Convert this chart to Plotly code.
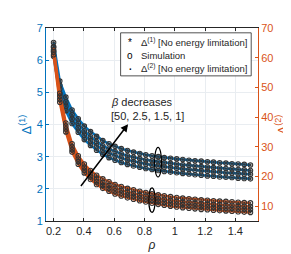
import plotly.graph_objects as go

rho = [0.2, 0.241, 0.281, 0.322, 0.363, 0.403, 0.444, 0.484, 0.525, 0.566, 0.606,
       0.647, 0.688, 0.728, 0.769, 0.809, 0.85, 0.891, 0.931, 0.972, 1.013, 1.053,
       1.094, 1.134, 1.175, 1.216, 1.256, 1.297, 1.338, 1.378, 1.419, 1.459, 1.5]

# Delta(1) (left axis), one list per beta
d1_b1 = [6.55, 5.35, 4.85, 4.45, 4.18, 3.95, 3.78, 3.63, 3.50, 3.40, 3.32, 3.25, 3.19, 3.14, 3.10, 3.06, 3.03,
         3.00, 2.97, 2.95, 2.93, 2.91, 2.89, 2.87, 2.86, 2.84, 2.83, 2.81, 2.80, 2.78, 2.77, 2.76, 2.74]
d1_b15 = [6.42, 5.22, 4.70, 4.30, 4.03, 3.80, 3.62, 3.47, 3.34, 3.24, 3.16, 3.09, 3.03, 2.98, 2.94, 2.90, 2.87,
          2.84, 2.81, 2.79, 2.77, 2.75, 2.73, 2.71, 2.69, 2.68, 2.66, 2.65, 2.63, 2.62, 2.60, 2.59, 2.57]
d1_b25 = [6.28, 5.10, 4.57, 4.17, 3.90, 3.67, 3.49, 3.34, 3.21, 3.11, 3.03, 2.96, 2.90, 2.85, 2.81, 2.77, 2.74,
          2.71, 2.68, 2.66, 2.64, 2.62, 2.60, 2.58, 2.56, 2.55, 2.53, 2.52, 2.50, 2.49, 2.47, 2.46, 2.45]
d1_b50 = [6.12, 4.95, 4.43, 4.03, 3.76, 3.53, 3.35, 3.20, 3.07, 2.97, 2.89, 2.82, 2.76, 2.71, 2.67, 2.63, 2.60,
          2.57, 2.54, 2.52, 2.50, 2.48, 2.46, 2.44, 2.42, 2.40, 2.39, 2.37, 2.36, 2.35, 2.33, 2.32, 2.31]

# Delta(2) (right axis)
d2_b1 = [63.5, 48.0, 38.0, 31.0, 27.0, 24.2, 22.0, 20.4, 19.2, 18.2, 17.3, 16.6, 16.0, 15.5, 15.0, 14.6, 14.2,
         13.8, 13.5, 13.2, 12.9, 12.7, 12.5, 12.3, 12.1, 12.0, 11.8, 11.7, 11.6, 11.5, 11.3, 11.2, 11.1]
d2_b15 = [62.7, 47.0, 37.0, 30.0, 25.9, 23.1, 20.9, 19.2, 18.0, 17.0, 16.1, 15.4, 14.8, 14.3, 13.8, 13.4, 13.0,
          12.6, 12.3, 12.0, 11.7, 11.5, 11.3, 11.1, 10.9, 10.8, 10.6, 10.5, 10.4, 10.3, 10.1, 10.0, 9.9]
d2_b25 = [61.9, 46.0, 36.0, 29.0, 25.0, 22.1, 19.9, 18.2, 17.0, 16.0, 15.1, 14.4, 13.8, 13.3, 12.8, 12.4, 12.0,
          11.6, 11.3, 11.0, 10.7, 10.5, 10.3, 10.1, 9.9, 9.8, 9.6, 9.5, 9.4, 9.3, 9.1, 9.0, 8.9]
d2_b50 = [61.0, 45.0, 35.0, 28.2, 24.1, 21.2, 19.0, 17.3, 16.0, 15.0, 14.1, 13.4, 12.8, 12.3, 11.8, 11.4, 11.0,
          10.6, 10.3, 10.0, 9.7, 9.5, 9.3, 9.1, 8.9, 8.8, 8.6, 8.5, 8.4, 8.3, 8.1, 8.0, 7.9]

x_ticks = [0.2, 0.4, 0.6, 0.8, 1, 1.2, 1.4]
y1_ticks = [1, 2, 3, 4, 5, 6, 7]
y2_ticks = [10, 20, 30, 40, 50, 60, 70]

BLUE = "#0072BD"
ORANGE = "#D95319"
FONT = "Liberation Sans, Arial, sans-serif"

fig = go.Figure()

d1_sets = [d1_b50, d1_b25, d1_b15, d1_b1]
d2_sets = [d2_b50, d2_b25, d2_b15, d2_b1]

for ys in d1_sets:
    fig.add_trace(go.Scatter(x=rho, y=ys, mode="lines", line=dict(color=BLUE, width=2.5),
                             showlegend=False, hoverinfo="skip", yaxis="y"))
for ys in d2_sets:
    fig.add_trace(go.Scatter(x=rho, y=ys, mode="lines", line=dict(color=ORANGE, width=2.5),
                             showlegend=False, hoverinfo="skip", yaxis="y2"))
for ys in d1_sets:
    fig.add_trace(go.Scatter(x=rho, y=ys, mode="markers",
                             marker=dict(symbol="circle-open", size=4.5, color="#333333", line=dict(width=1.1)),
                             showlegend=False, hoverinfo="skip", yaxis="y"))
    fig.add_trace(go.Scatter(x=rho, y=ys, mode="markers",
                             marker=dict(symbol="asterisk-open", size=2.5, color="#333333", line=dict(width=0.8)),
                             showlegend=False, hoverinfo="skip", yaxis="y"))
for ys in d2_sets:
    fig.add_trace(go.Scatter(x=rho, y=ys, mode="markers",
                             marker=dict(symbol="circle-open", size=4.5, color="#333333", line=dict(width=1.1)),
                             showlegend=False, hoverinfo="skip", yaxis="y2"))
    fig.add_trace(go.Scatter(x=rho, y=ys, mode="markers",
                             marker=dict(symbol="circle", size=1.8, color="#333333"),
                             showlegend=False, hoverinfo="skip", yaxis="y2"))

shapes = [
    dict(type="rect", xref="paper", yref="paper", x0=0.352, x1=0.968, y0=0.752, y1=0.975,
         line=dict(color="#262626", width=0.8), fillcolor="white", layer="above"),
    dict(type="circle", xref="x", yref="y", x0=0.867, x1=0.913, y0=2.37, y1=3.29,
         line=dict(color="black", width=1.2)),
    dict(type="circle", xref="x", yref="y", x0=0.829, x1=0.871, y0=1.27, y1=2.03,
         line=dict(color="black", width=1.2)),
]

ann = []
leg_rows = [(0.926, "*", "Δ<sup>(1)</sup> [No energy limitation]"),
            (0.859, "o", "Simulation"),
            (0.792, "·", "Δ<sup>(2)</sup> [No energy limitation]")]
for yy, sym, txt in leg_rows:
    ann.append(dict(xref="paper", yref="paper", x=0.397, y=yy, text=sym, showarrow=False,
                    font=dict(family=FONT, size=10 if sym != "·" else 14, color="black"),
                    xanchor="center", yanchor="middle"))
    ann.append(dict(xref="paper", yref="paper", x=0.440, y=yy, text=txt, showarrow=False,
                    font=dict(family=FONT, size=9.5, color="#262626"),
                    xanchor="left", yanchor="middle"))

ann.append(dict(xref="x", yref="y", x=0.692, y=4.01, ax=0.373, ay=2.04, axref="x", ayref="y",
                text="", showarrow=True, arrowhead=2, arrowsize=1, arrowwidth=1.5, arrowcolor="black"))
ann.append(dict(xref="x", yref="y", x=0.565, y=4.69, text="<i>β</i> decreases", showarrow=False,
                font=dict(family=FONT, size=11, color="#262626"), xanchor="left", yanchor="middle"))
ann.append(dict(xref="x", yref="y", x=0.565, y=4.27, text="[50, 2.5, 1.5, 1]", showarrow=False,
                font=dict(family=FONT, size=11, color="#262626"), xanchor="left", yanchor="middle"))

fig.update_layout(
    width=291, height=254,
    margin=dict(l=38, r=34, t=20, b=32),
    paper_bgcolor="white", plot_bgcolor="white",
    font=dict(family=FONT, size=11, color="#262626"),
    showlegend=False,
    shapes=shapes, annotations=ann,
    xaxis=dict(range=[0.15, 1.55], tickvals=x_ticks, ticktext=["0.2", "0.4", "0.6", "0.8", "1", "1.2", "1.4"],
               showgrid=True, gridcolor="#e9edf1", gridwidth=1, zeroline=False,
               showline=True, linecolor="#262626", linewidth=1, mirror="ticks",
               ticks="inside", ticklen=3, tickcolor="#262626",
               tickfont=dict(size=11, color="#262626"),
               title=dict(text="<i>ρ</i>", font=dict(size=12, color="#262626"), standoff=4)),
    yaxis=dict(range=[1, 7], tickvals=y1_ticks, showgrid=True, gridcolor="#e9edf1", zeroline=False,
               showline=True, linecolor=BLUE, linewidth=1, ticks="inside", ticklen=3, tickcolor=BLUE,
               tickfont=dict(size=11, color=BLUE),
               title=dict(text="Δ<sup>(1)</sup>", font=dict(size=13, color=BLUE), standoff=2)),
    yaxis2=dict(range=[5, 70], tickvals=y2_ticks, overlaying="y", side="right", showgrid=False,
                zeroline=False, showline=True, linecolor=ORANGE, linewidth=1, ticks="inside",
                ticklen=3, tickcolor=ORANGE, tickfont=dict(size=11, color=ORANGE),
                title=dict(text="Δ<sup>(2)</sup>", font=dict(size=13, color=ORANGE), standoff=4)),
)

fig.write_html("out.html")
